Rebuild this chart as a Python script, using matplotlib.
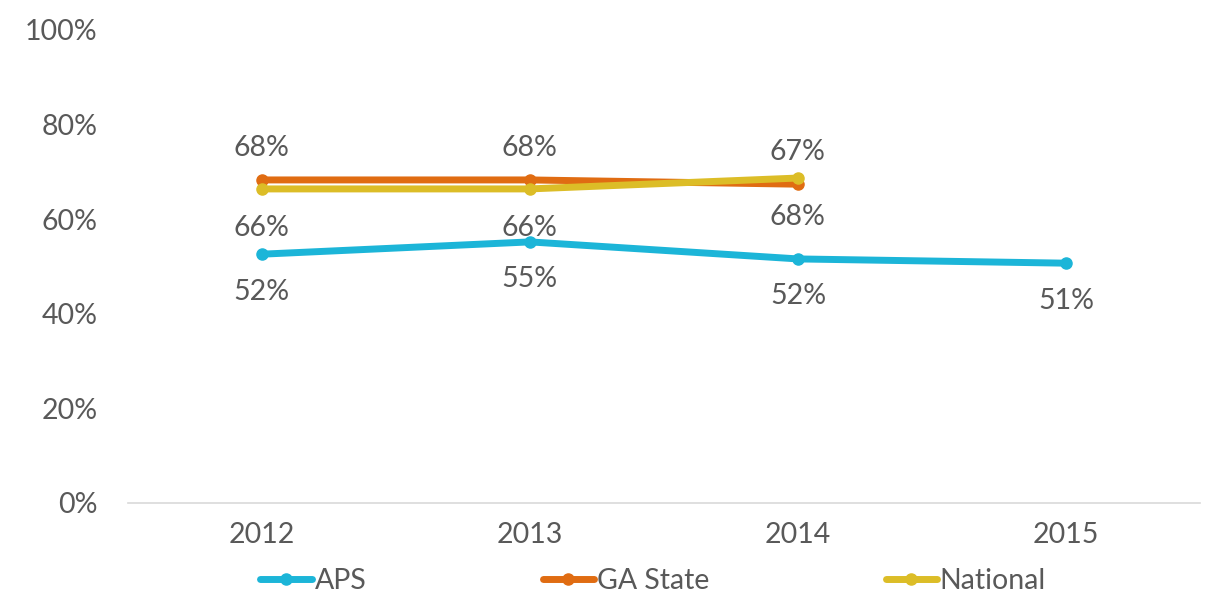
import matplotlib
matplotlib.use("Agg")
import matplotlib.pyplot as plt

years = ["2012", "2013", "2014", "2015"]
aps = [52.6, 55.2, 51.6, 50.7]
ga_state = [68.3, 68.3, 67.4]
national = [66.4, 66.4, 68.7]
aps_labels = ["52%", "55%", "52%", "51%"]
ga_labels = ["68%", "68%", "67%"]
nat_labels = ["66%", "66%", "68%"]

c_aps = "#1cb5d8"
c_ga = "#e06c12"
c_nat = "#dcbd27"
txt = "#595959"

plt.rcParams["font.family"] = ["Lato", "DejaVu Sans"]

fig = plt.figure(figsize=(12.06, 6.0), dpi=100)
ax = fig.add_axes([0.106, 0.1617, 0.889, 0.7883])

x_aps = list(range(len(aps)))
x_ga = list(range(len(ga_state)))
x_nat = list(range(len(national)))

lw = 5
ms = 8
ax.plot(x_aps, aps, color=c_aps, lw=lw, marker="o", ms=ms, label="APS", solid_capstyle="round", zorder=3)
ax.plot(x_ga, ga_state, color=c_ga, lw=lw, marker="o", ms=ms, label="GA State", solid_capstyle="round", zorder=3)
ax.plot(x_nat, national, color=c_nat, lw=lw, marker="o", ms=ms, label="National", solid_capstyle="round", zorder=4)

fs = 20.5
for xi, v, l in zip(x_aps, aps, aps_labels):
    ax.annotate(l, (xi, v), xytext=(0, -27), textcoords="offset points", ha="center", va="center", fontsize=fs, color=txt)
for xi, v, l in zip(x_ga, ga_state, ga_labels):
    ax.annotate(l, (xi, v), xytext=(0, 23), textcoords="offset points", ha="center", va="center", fontsize=fs, color=txt)
for xi, v, l in zip(x_nat, national, nat_labels):
    ax.annotate(l, (xi, v), xytext=(0, -28), textcoords="offset points", ha="center", va="center", fontsize=fs, color=txt)

ax.set_xlim(-0.5, len(years) - 0.5)
ax.set_ylim(0, 100)
ax.set_xticks(range(len(years)))
ax.set_xticklabels(years)
ax.set_yticks([0, 20, 40, 60, 80, 100])
ax.set_yticklabels(["0%", "20%", "40%", "60%", "80%", "100%"])
ax.tick_params(axis="both", length=0, labelsize=fs, labelcolor=txt)
ax.tick_params(axis="y", pad=22)
ax.tick_params(axis="x", pad=14)
for s in ["top", "right", "left"]:
    ax.spines[s].set_visible(False)
ax.spines["bottom"].set_color("#d9d9d9")
ax.spines["bottom"].set_linewidth(1.2)

leg = ax.legend(loc="center", bbox_to_anchor=(0.49, -0.165), ncol=3, frameon=False,
                fontsize=fs, handlelength=1.8, handletextpad=0.1, columnspacing=6.2,
                labelcolor=txt)

fig.savefig("out.png", dpi=100)
